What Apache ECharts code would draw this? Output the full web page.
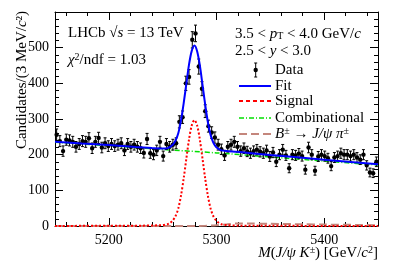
<!DOCTYPE html>
<html>
<head>
<meta charset="utf-8">
<script src="https://cdn.jsdelivr.net/npm/echarts@6/dist/echarts.min.js"></script>
<style>html,body{margin:0;padding:0;background:#fff}#c{width:399px;height:270px}</style>
</head>
<body>
<div id="c"></div>
<script>
// ---- data ----
const massMin = 5150, massMax = 5450, binWidth = 3;
const counts = [256,238,210,242,240,236,222,230,238,236,246,218,236,247,220,232,224,230,224,228,
  232,212,230,222,228,222,218,205,244,204,200,212,236,196,230,222,228,232,292,305,
  400,418,522,540,447,385,322,280,262,248,228,215,198,222,228,236,222,210,218,209,
  204,210,214,208,204,212,195,206,180,200,214,198,162,200,198,203,196,158,220,200,
  155,195,200,196,190,168,192,196,204,200,200,196,200,192,186,200,170,150,148,180];

const fitX = [5150,5175,5200,5225,5240,5249.5,5254.5,5257,5259.5,5262,5264.5,5267,5269.5,5272,5274.5,5277,5279.5,5282,5284.5,5287,5289.5,5292,5294.5,5297,5299.5,5302,5304.5,5309.5,5319.5,5350,5400,5450];
const fitY = [236.5,231.5,227,221.5,218.5,217,218,222,228,240,260,296,344,399,453,491,506,490,451,396,340,291,255,234,222,216,212,210,208,199,186,173];

const sigX = [5150,5200,5230,5240,5249.5,5254.5,5257,5259.5,5262,5264.5,5267,5269.5,5272,5274.5,5277,5279.5,5282,5284.5,5287,5289.5,5292,5294.5,5297,5299.5,5302,5304.5,5309.5,5319.5,5350,5400,5450];
const sigY = [0.3,0.5,1,1.5,2.5,5,9,16,28,49,85,133,189,243,282,297,282,243,189,133,85,49,28,16,9,5,2.5,1,0.5,0.3,0.2];

const combX = [5150,5200,5250,5300,5350,5400,5450];
const combY = [235,225,214.5,205,193.5,182,171];

const misX = [5150,5280,5290,5300,5310,5320,5330,5350,5380,5400,5430,5450];
const misY = [0,0,0.5,2,5,7,7,6,5,4,3,2];

const xMajor = [5200,5300,5400];
const xMinor = [5160,5180,5220,5240,5260,5280,5320,5340,5360,5380,5420,5440];

// ---- helpers ----
const serif = 'Liberation Serif';
const pair = (xs, ys) => xs.map((x, i) => [x, ys[i]]);
const dataPts = counts.map((c, i) => [massMin + binWidth * (i + 0.5), c, Math.sqrt(c)]);

const richBase = (fs) => ({
  n: {fontFamily: serif, fontSize: fs, fill: '#000'},
  i: {fontFamily: serif, fontSize: fs, fontStyle: 'italic', fill: '#000'},
  sup: {fontFamily: serif, fontSize: Math.round(fs * 0.65), fill: '#000', verticalAlign: 'top'},
  sub: {fontFamily: serif, fontSize: Math.round(fs * 0.65), fill: '#000', verticalAlign: 'bottom'}
});
function txt(x, y, text, fs, opts) {
  return Object.assign({type: 'text', x: x, y: y, z: 100,
    style: {text: text, rich: richBase(fs), fontFamily: serif, fontSize: fs, fill: '#000',
      verticalAlign: 'middle', align: 'left'}}, opts || {});
}

const lineOn = {show: true, onZero: false, lineStyle: {color: '#000', width: 1}};
const lineOff = {show: false, onZero: false};
function xAx(pos, ticks, len, labels, line) {
  return {type: 'value', min: massMin, max: massMax, position: pos,
    axisLine: line ? lineOn : lineOff,
    axisTick: {show: true, inside: true, length: len, customValues: ticks, lineStyle: {color: '#000', width: 1}},
    axisLabel: labels ? {show: true, customValues: xMajor, fontFamily: serif, fontSize: 14, color: '#000', margin: 7,
                         formatter: (v) => String(v)}
                      : {show: false},
    splitLine: {show: false}};
}
function yAx(pos, labels) {
  return {type: 'value', min: 0, max: 600, interval: 100, position: pos,
    axisLine: lineOn,
    axisTick: {show: true, inside: true, length: 8, lineStyle: {color: '#000'}},
    minorTick: {show: true, splitNumber: 5, length: 4, lineStyle: {color: '#000'}},
    axisLabel: labels ? {show: true, fontFamily: serif, fontSize: 14, color: '#000', margin: 6, showMaxLabel: false}
                      : {show: false},
    splitLine: {show: false}, minorSplitLine: {show: false}};
}

const chart = echarts.init(document.getElementById('c'), null, {renderer: 'canvas'});
chart.setOption({
  animation: false,
  backgroundColor: '#fff',
  grid: {left: 55, right: 21, top: 12, bottom: 44, containLabel: false},
  xAxis: [xAx('bottom', xMajor, 8, true, true), xAx('bottom', xMinor, 4, false, false),
          xAx('top', xMajor, 8, false, true), xAx('top', xMinor, 4, false, false)],
  yAxis: [yAx('left', true), yAx('right', false)],
  series: [
    {type: 'line', data: pair(misX, misY), showSymbol: false, smooth: 0.3,
     lineStyle: {color: '#c4867c', width: 2, type: [8, 4]}, z: 2},
    {type: 'line', data: pair(combX, combY), showSymbol: false, smooth: 0.3,
     lineStyle: {color: '#00e000', width: 1.5, type: [5, 2, 1, 2]}, z: 3},
    {type: 'line', data: pair(sigX, sigY), showSymbol: false, smooth: 0.3,
     lineStyle: {color: '#ff0000', width: 2, type: [2, 2]}, z: 4},
    {type: 'custom', data: dataPts, encode: {x: 0, y: 1}, z: 5,
     renderItem: function (params, api) {
       const x = api.value(0), y = api.value(1), e = api.value(2);
       const p = api.coord([x, y]), lo = api.coord([x, y - e]), hi = api.coord([x, y + e]);
       const st = {stroke: '#000', lineWidth: 1};
       return {type: 'group', children: [
         {type: 'line', shape: {x1: p[0], y1: lo[1], x2: p[0], y2: hi[1]}, style: st},
         {type: 'line', shape: {x1: p[0] - 1.5, y1: lo[1], x2: p[0] + 1.5, y2: lo[1]}, style: st},
         {type: 'line', shape: {x1: p[0] - 1.5, y1: hi[1], x2: p[0] + 1.5, y2: hi[1]}, style: st},
         {type: 'circle', shape: {cx: p[0], cy: p[1], r: 2.2}, style: {fill: '#000'}}
       ]};
     }},
    {type: 'line', data: pair(fitX, fitY), showSymbol: false, smooth: 0.3,
     lineStyle: {color: '#0000ff', width: 2}, z: 6}
  ],
  graphic: [
    // y-axis title
    txt(22, 80, '', 15, {rotation: Math.PI / 2,
      style: {text: '{n|Candidates/(3 MeV/}{i|c}{n|²)}', rich: richBase(15), align: 'center', verticalAlign: 'middle'}}),
    // x-axis title
    txt(378, 253, '', 15, {style: {text: '{i|M}{n|(}{i|J/ψ K}{sup|±}{n|) [GeV/}{i|c}{sup|2}{n|]}',
      rich: richBase(15), align: 'right', verticalAlign: 'middle'}}),
    txt(68, 33, '{n|LHCb √}{i|s}{n| = 13 TeV}', 15),
    txt(68, 60, '{i|χ}{sup|2}{n|/ndf = 1.03}', 15),
    txt(235, 34, '{n|3.5 < }{i|p}{sub|T}{n| < 4.0 GeV/}{i|c}', 15),
    txt(235, 51, '{n|2.5 < }{i|y}{n| < 3.0}', 15),
    // legend
    {type: 'line', z: 100, shape: {x1: 255.7, y1: 63, x2: 255.7, y2: 77}, style: {stroke: '#000', lineWidth: 1}},
    {type: 'line', z: 100, shape: {x1: 254.2, y1: 63, x2: 257.2, y2: 63}, style: {stroke: '#000', lineWidth: 1}},
    {type: 'line', z: 100, shape: {x1: 254.2, y1: 77, x2: 257.2, y2: 77}, style: {stroke: '#000', lineWidth: 1}},
    {type: 'circle', z: 100, shape: {cx: 255.7, cy: 70, r: 2.2}, style: {fill: '#000'}},
    {type: 'line', z: 100, shape: {x1: 239, y1: 86, x2: 271, y2: 86}, style: {stroke: '#0000ff', lineWidth: 2}},
    {type: 'line', z: 100, shape: {x1: 239, y1: 101, x2: 271, y2: 101}, style: {stroke: '#ff0000', lineWidth: 2, lineDash: [4, 3]}},
    {type: 'line', z: 100, shape: {x1: 239, y1: 118, x2: 271, y2: 118}, style: {stroke: '#00e000', lineWidth: 1.5, lineDash: [5, 2, 1, 2]}},
    {type: 'line', z: 100, shape: {x1: 239, y1: 134, x2: 271, y2: 134}, style: {stroke: '#c4867c', lineWidth: 2, lineDash: [8, 4]}},
    txt(275, 70, '{n|Data}', 15),
    txt(275, 86, '{n|Fit}', 15),
    txt(275, 101, '{n|Signal}', 15),
    txt(275, 118, '{n|Combinational}', 15),
    txt(275, 134, '{i|B}{sup|±}{n| → }{i|J/ψ π}{sup|±}', 15)
  ]
});
</script>
</body>
</html>
